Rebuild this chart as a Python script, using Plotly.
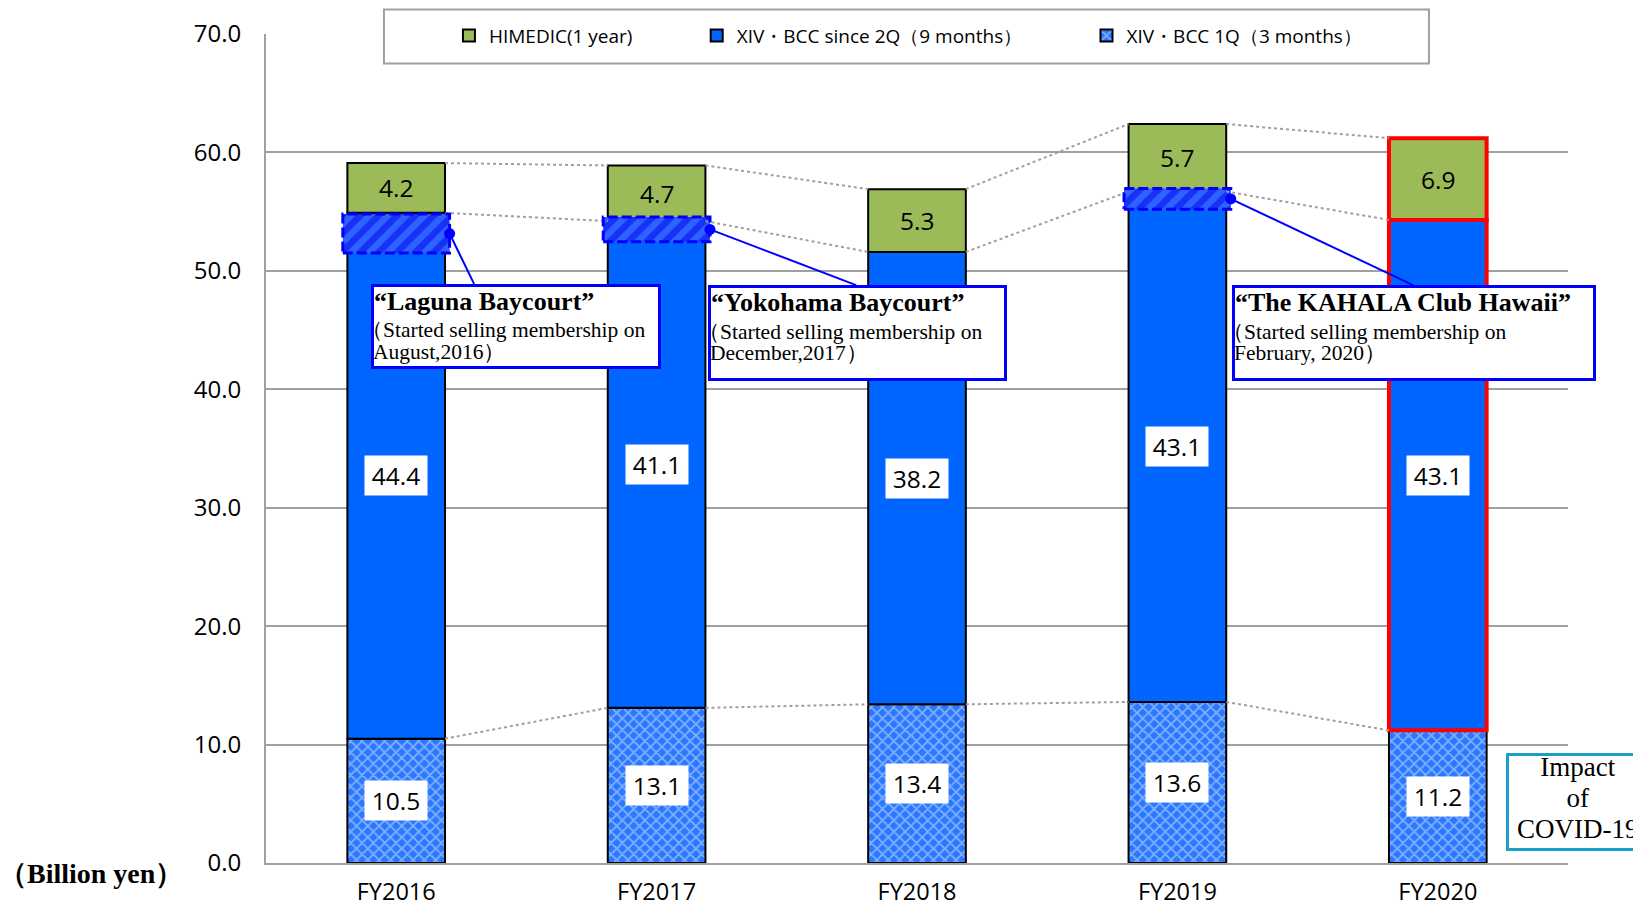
import plotly.graph_objects as go

# ---------------- data ----------------
categories = ["FY2016", "FY2017", "FY2018", "FY2019", "FY2020"]
xiv_1q = [10.5, 13.1, 13.4, 13.6, 11.2]      # XIV・BCC 1Q (3 months)
xiv_2q = [44.4, 41.1, 38.2, 43.1, 43.1]      # XIV・BCC since 2Q (9 months)
himedic = [4.2, 4.7, 5.3, 5.7, 6.9]          # HIMEDIC (1 year)

series_names = ["XIV・BCC 1Q（3 months）", "XIV・BCC since 2Q（9 months）", "HIMEDIC(1 year)"]

# new resort launches (hatched band)
launch_idx = [0, 1, 3]
launch_lo = [51.5, 52.45, 55.2]
launch_hi = [54.8, 54.55, 56.95]
launch_titles = ["“Laguna Baycourt”", "“Yokohama Baycourt”", "“The KAHALA Club Hawaii”"]
launch_line1 = ["（Started selling membership on", "（Started selling membership on", "（Started selling membership on"]
launch_line2 = ["August,2016）", "December,2017）", "February, 2020）"]

covid_lines = ["Impact", "of", "COVID-19"]
unit_text = "（Billion yen）"

# ---------------- style / layout constants ----------------
BLUE = "#0066FF"
GREEN = "#9BBB59"
GRID = "#A0A0A0"
NUM_FONT = "Open Sans"
SERIF = "Liberation Serif"
BAR_W = 0.375
HATCH_W = 0.41
highlight = [False, False, False, False, True]
legend_pad = [15, 12, 12]   # non-breaking spaces after each legend label (1Q, 2Q, HIMEDIC)

# callout box placement (data coords: x index, y value) and size
box_x = [-0.097, 1.196, 3.211]
box_y = [48.9, 48.8, 48.8]
box_w = [284, 293, 358]
box_h = [79, 90, 90]
attach_x = [0.299, 1.766, 3.905]

n = len(categories)
xs = list(range(n))
base2 = [a for a in xiv_1q]
base3 = [a + b for a, b in zip(xiv_1q, xiv_2q)]
top3 = [a + b for a, b in zip(base3, himedic)]

line_cols = ["#FF0000" if h else "#000000" for h in highlight]
line_ws = [4 if h else 2 for h in highlight]

NB = "\u00a0"
fig = go.Figure()

# 1Q segment
fig.add_trace(go.Bar(
    x=xs, y=xiv_1q, base=[0] * n, width=BAR_W, name=series_names[0] + NB * legend_pad[0],
    marker=dict(color=BLUE,
                pattern=dict(shape="x", fgcolor="#D8E7FF", bgcolor="#2A78FF", size=8, solidity=0.4),
                line=dict(color="#000000", width=2)),
    hoverinfo="skip",
))
# since 2Q segment
fig.add_trace(go.Bar(
    x=xs, y=xiv_2q, base=base2, width=BAR_W, name=series_names[1] + NB * legend_pad[1],
    marker=dict(color=BLUE, line=dict(color=line_cols, width=line_ws)),
    hoverinfo="skip",
))
# HIMEDIC
fig.add_trace(go.Bar(
    x=xs, y=himedic, base=base3, width=BAR_W, name=series_names[2] + NB * legend_pad[2],
    marker=dict(color=GREEN, line=dict(color=line_cols, width=line_ws)),
    hoverinfo="skip",
))
# hatched launch band
fig.add_trace(go.Bar(
    x=launch_idx, y=[h - l for h, l in zip(launch_hi, launch_lo)], base=launch_lo,
    width=HATCH_W, showlegend=False,
    marker=dict(color="#2B5BFF",
                pattern=dict(shape="/", fgcolor="#0000F0", bgcolor="#2F62FF", size=13, solidity=0.5),
                line=dict(width=0)),
    hoverinfo="skip",
))

# dotted series lines between bars
def series_line(vals):
    lx, ly = [], []
    for i in range(n - 1):
        lx += [i + BAR_W / 2, i + 1 - BAR_W / 2, None]
        ly += [vals[i], vals[i + 1], None]
    return lx, ly

for vals in (xiv_1q, base3, top3):
    lx, ly = series_line(vals)
    fig.add_trace(go.Scatter(x=lx, y=ly, mode="lines", showlegend=False, hoverinfo="skip",
                             line=dict(color=GRID, width=2, dash="dot")))

# dashed outline of hatched bands
ox, oy = [], []
for i, lo, hi in zip(launch_idx, launch_lo, launch_hi):
    hw = HATCH_W / 2
    ox += [i - hw, i + hw, i + hw, i - hw, i - hw, None]
    oy += [lo, lo, hi, hi, lo, None]
fig.add_trace(go.Scatter(x=ox, y=oy, mode="lines", showlegend=False, hoverinfo="skip",
                         line=dict(color="#0000FF", width=3, dash="10px,4px")))

# connectors from band to callout boxes
cx, cy = [], []
for k, (i, lo, hi) in enumerate(zip(launch_idx, launch_lo, launch_hi)):
    cx += [i + HATCH_W / 2, attach_x[k], None]
    cy += [(lo + hi) / 2, box_y[k], None]
fig.add_trace(go.Scatter(x=cx, y=cy, mode="lines", showlegend=False, hoverinfo="skip",
                         line=dict(color="#0000FF", width=2)))
fig.add_trace(go.Scatter(x=[i + HATCH_W / 2 for i in launch_idx],
                         y=[(lo + hi) / 2 for lo, hi in zip(launch_lo, launch_hi)],
                         mode="markers", showlegend=False, hoverinfo="skip",
                         marker=dict(color="#0000FF", size=11)))

annotations = []
LBL_FONT = dict(family=NUM_FONT, size=24.5, color="black")
# value labels
for i in range(n):
    annotations.append(dict(x=i, y=xiv_1q[i] / 2, xref="x", yref="y", text=f"{xiv_1q[i]:.1f}",
                            showarrow=False, bgcolor="white", borderpad=3, width=56, height=33,
                            font=LBL_FONT))
    annotations.append(dict(x=i, y=base2[i] + xiv_2q[i] / 2, xref="x", yref="y", text=f"{xiv_2q[i]:.1f}",
                            showarrow=False, bgcolor="white", borderpad=3, width=56, height=33,
                            font=LBL_FONT))
    annotations.append(dict(x=i, y=base3[i] + himedic[i] / 2, xref="x", yref="y", text=f"{himedic[i]:.1f}",
                            showarrow=False, font=LBL_FONT))

# callout boxes: framed title, then the two note lines laid over it
NOTE_FONT = dict(family=SERIF, size=21.5, color="black")
for k in range(len(launch_idx)):
    annotations.append(dict(x=box_x[k], y=box_y[k], xref="x", yref="y", xanchor="left", yanchor="top",
                            text=f"<b>{launch_titles[k]}</b>", showarrow=False, align="left", valign="top",
                            width=box_w[k], height=box_h[k],
                            bgcolor="white", bordercolor="#0000FF", borderwidth=3, borderpad=0,
                            font=dict(family=SERIF, size=26, color="black")))
    annotations.append(dict(x=box_x[k], y=box_y[k], xref="x", yref="y", xanchor="left", yanchor="middle",
                            xshift=-10, yshift=-46.5, borderpad=0, borderwidth=0,
                            text=launch_line1[k], showarrow=False, align="left", font=NOTE_FONT))
    annotations.append(dict(x=box_x[k], y=box_y[k], xref="x", yref="y", xanchor="left", yanchor="middle",
                            xshift=2, yshift=-68, borderpad=0, borderwidth=0,
                            text=launch_line2[k], showarrow=False, align="left", font=NOTE_FONT))

# COVID box (frame) and its text
annotations.append(dict(x=1.0077, y=0.0736, xref="paper", yref="paper", xanchor="center", yanchor="middle",
                        text=NB, showarrow=False,
                        width=136, height=90, bgcolor="white", bordercolor="#1AA0C8",
                        borderwidth=3, borderpad=1,
                        font=dict(family=SERIF, size=24, color="black")))
covid_text = "<br>".join(f"<span style='font-size:27px'>{t}</span>" for t in covid_lines)
annotations.append(dict(x=1.0077, y=0.0736, xref="paper", yref="paper", xanchor="center", yanchor="middle",
                        yshift=4, text=covid_text, showarrow=False, align="center",
                        font=dict(family=SERIF, size=24, color="black")))
# unit label
annotations.append(dict(x=-0.2066, y=-0.0129, xref="paper", yref="paper", xanchor="left", yanchor="middle",
                        text=f"<b>{unit_text}</b>", showarrow=False,
                        font=dict(family=SERIF, size=28, color="black")))

fig.update_layout(
    width=1633, height=907,
    margin=dict(l=266, r=65, t=34, b=44),
    barmode="overlay",
    plot_bgcolor="white", paper_bgcolor="white",
    showlegend=True,
    legend=dict(orientation="h", x=0.1405, xanchor="left", y=1.0297 - 0.0088, yanchor="top",
                traceorder="reversed", bgcolor="rgba(0,0,0,0)", borderwidth=0,
                font=dict(family=NUM_FONT, size=19, color="black")),
    shapes=[dict(type="rect", xref="paper", yref="paper", x0=0.0906, x1=0.8932, y0=0.9644, y1=1.0297,
                 line=dict(color=GRID, width=2), fillcolor="white", layer="above")],
    xaxis=dict(range=[-0.5, 4.5], tickmode="array", tickvals=xs, ticktext=categories,
               showgrid=False, zeroline=False, showline=True, linecolor=GRID, linewidth=2,
               ticks="", ticklabelstandoff=7, automargin=False,
               tickfont=dict(family=NUM_FONT, size=23.5, color="black")),
    yaxis=dict(range=[0, 70], tickmode="linear", tick0=0, dtick=10, tickformat=".1f",
               showgrid=True, gridcolor=GRID, gridwidth=2, zeroline=False, automargin=False,
               showline=True, linecolor=GRID, linewidth=2, ticks="", ticklabelstandoff=18,
               tickfont=dict(family=NUM_FONT, size=24, color="black")),
    annotations=annotations,
)

fig.write_html("out.html")
